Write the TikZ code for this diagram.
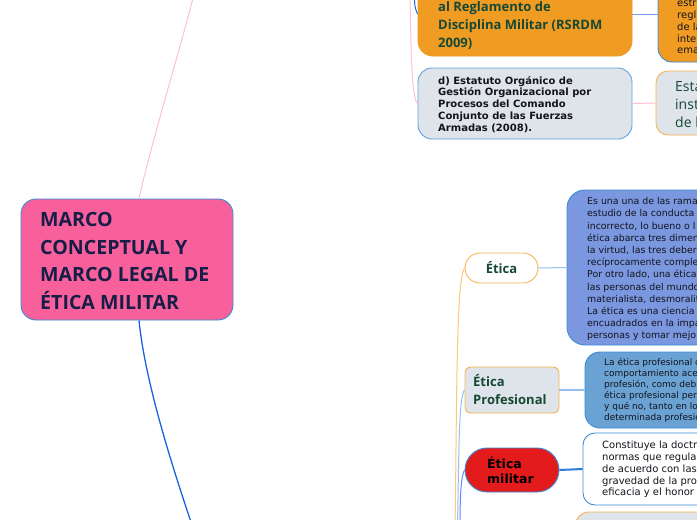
\documentclass[tikz,border=0pt]{standalone}
\usepackage{fontspec}
\setmainfont{Open Sans}
\newfontfamily\djv{DejaVu Sans}
\definecolor{pinkc}{RGB}{247,96,154}
\definecolor{navyc}{RGB}{22,30,72}
\definecolor{bordblue}{RGB}{58,140,215}
\definecolor{orangec}{RGB}{240,156,34}
\definecolor{orangeb}{RGB}{246,180,80}
\definecolor{grayc}{RGB}{223,227,234}
\definecolor{greenc}{RGB}{22,72,52}
\definecolor{bigblue}{RGB}{122,151,224}
\definecolor{midblue}{RGB}{106,162,212}
\definecolor{redc}{RGB}{227,27,28}
\definecolor{pinkl}{RGB}{255,192,216}
\definecolor{blued}{RGB}{25,100,220}
\definecolor{bluel}{RGB}{150,190,240}
\definecolor{bluem}{RGB}{45,122,215}
\definecolor{orangel}{RGB}{255,200,120}
\definecolor{textc}{RGB}{20,20,28}
\begin{document}
\begin{tikzpicture}[x=1pt,y=-1pt,
  box/.style={draw, rectangle, inner sep=0pt, line width=0.9pt},
  ln/.style={anchor=base west, inner sep=0pt},
  lm/.style={anchor=mid west, inner sep=0pt},
  conn/.style={line width=1pt}]
\useasboundingbox (0,0) rectangle (697,520);
\clip (0,0) rectangle (697,520);
\fill[white] (0,0) rectangle (697,520);

% boxes
\node[box, fill=pinkc, draw=bordblue, rounded corners=15pt, minimum width=212pt, minimum height=121pt] (central) at (127,259.5) {};
\node[box, fill=orangec, draw=orangec, rounded corners=15pt, minimum width=214pt, minimum height=84pt] (rsrdm) at (525,14) {};
\node[box, fill=orangec, draw=bordblue, rounded corners=14pt, minimum width=142pt, minimum height=96pt] (far) at (729,14) {};
\node[box, fill=grayc, draw=bordblue!80, rounded corners=14pt, minimum width=214pt, minimum height=71pt] (dbox) at (525,103.5) {};
\node[box, fill=grayc, draw=orangeb, rounded corners=12pt, minimum width=144pt, minimum height=64pt] (esta) at (728,103) {};
\node[box, fill=white, draw=orangeb, rounded corners=15pt, minimum width=73pt, minimum height=30pt, font=\bfseries\fontsize{13}{15}\selectfont, text=greenc] (etica) at (501.5,268) {Ética};
\node[box, fill=bigblue, draw=bordblue, rounded corners=18pt, minimum width=233pt, minimum height=155pt] (big) at (683.5,267.5) {};
\node[box, fill=grayc, draw=orangeb, rounded corners=6pt, minimum width=94pt, minimum height=46pt] (prof) at (512,390) {};
\node[box, fill=midblue, draw=bordblue, rounded corners=15pt, minimum width=215pt, minimum height=76pt] (box2) at (692.5,390) {};
\node[box, fill=redc, draw=bordblue, rounded corners=22pt, minimum width=94pt, minimum height=44pt] (mil) at (512,470) {};
\node[box, fill=white, draw=bordblue, rounded corners=12pt, minimum width=217pt, minimum height=72pt] (white) at (691.5,469) {};
\node[box, fill=grayc, draw=orangeb, rounded corners=14pt, minimum width=225pt, minimum height=88pt] (bot) at (687.5,556) {};

% connectors
\coordinate (ptop) at (194,-6);
\coordinate (pbot) at (193,528);
\coordinate (tp) at (410,-6);
\coordinate (tb) at (414,-6);
\coordinate (vo) at (455,530);
\coordinate (vb) at (457.5,530);
\coordinate (vm) at (460,530);
\draw[conn, pinkl] ([xshift=12pt]central.north) .. controls (152,140) and (180,50) .. (ptop);
\draw[conn, blued, line width=1.3pt] ([xshift=12pt]central.south) .. controls (145,380) and (170,460) .. (pbot);
\draw[conn, pinkl] (tp) .. controls (411,60) and (412,98) .. (dbox.west);
\draw[conn, blued] (tb) .. controls (415,8) .. (rsrdm.west);
\draw[conn, bluel!80!blue] (rsrdm.east) -- (far.west);
\draw[conn, pinkl] (dbox.east) -- (esta.west);
\draw[conn, bluel] (etica.east) -- (big.west);
\draw[conn, bluel, line width=1.5pt] (prof.east) -- (box2.west);
\draw[conn, bluem, line width=2pt] (mil.east) -- (white.west);
\draw[conn, orangel] (vo) .. controls (457,400) and (456,280) .. (etica.west);
\draw[conn, bluel] (vb) .. controls (459,440) and (459,398) .. (prof.west);
\draw[conn, bluel!70!blue] (vm) .. controls (460,495) and (461,476) .. (mil.west);

% texts
\foreach \t [count=\i] in {MARCO, CONCEPTUAL Y, MARCO LEGAL DE, ÉTICA MILITAR}
  \node[ln, font=\bfseries\fontsize{19.6}{23}\selectfont, text=navyc] (ct\i) at (40,{226.7+27.45*(\i-1)}) {\t};
\foreach \t [count=\i] in {al Reglamento de, Disciplina Militar (RSRDM, 2009)}
  \node[ln, font=\bfseries\fontsize{13}{16}\selectfont, text=greenc] (rt\i) at (438,{11+18*(\i-1)}) {\t};
\foreach \t [count=\i] in {estr, regl, de la, inte, ema}
  \node[ln, font=\djv\fontsize{10}{12}\selectfont, text=textc] (ft\i) at (677,{6.7+11.8*(\i-1)}) {\t};
\foreach \t [count=\i] in {d) Estatuto Orgánico de, Gestión Organizacional por, Procesos del Comando, Conjunto de las Fuerzas, Armadas (2008).}
  \node[ln, font=\djv\bfseries\fontsize{10}{12}\selectfont, text=textc] (dt\i) at (438,{84+11.85*(\i-1)}) {\t};
\foreach \t [count=\i] in {Esta, inst, de l}
  \node[ln, font=\fontsize{14}{17}\selectfont, text=greenc] (et\i) at (675,{91.7+17.8*(\i-1)}) {\t};
\foreach \t [count=\i] in {Es una una de las rama, estudio de la conducta, {incorrecto, lo bueno o l}, ética abarca tres dimen, {la virtud, las tres deber}, recíprocamente comple, {Por otro lado, una ética}, las personas del mundo, {materialista, desmoralit}, La ética es una ciencia, encuadrados en la impa, personas y tomar mejo}
  \node[lm, font=\djv\fontsize{9.4}{11}\selectfont, text=textc] (bt\i) at (587,{202+12.2*(\i-1)}) {\t};
\node[ln, font=\bfseries\fontsize{13}{15}\selectfont, text=greenc] (pt1) at (473,386.7) {Ética};
\node[ln, font=\bfseries\fontsize{13}{15}\selectfont, text=greenc] (pt2) at (473,404) {Profesional};
\foreach \t [count=\i] in {La ética profesional c, comportamiento ace, {profesión, como deb}, ética profesional per, {y qué no, tanto en lo}, determinada profesió}
  \node[lm, font=\djv\fontsize{9}{10}\selectfont, text=textc] (b2t\i) at (604,{363+11*(\i-1)}) {\t};
\node[ln, font=\djv\bfseries\fontsize{12.5}{15}\selectfont, text=black] (mt1) at (487,468.3) {Ética};
\node[ln, font=\djv\bfseries\fontsize{12.5}{15}\selectfont, text=black] (mt2) at (487,483) {militar};
\foreach \t [count=\i] in {Constituye la doctr, normas que regula, de acuerdo con las, gravedad de la pro, eficacia y el honor}
  \node[lm, font=\djv\fontsize{10}{11}\selectfont, text=textc] (wt\i) at (602,{446+11.8*(\i-1)}) {\t};
\end{tikzpicture}
\end{document}
